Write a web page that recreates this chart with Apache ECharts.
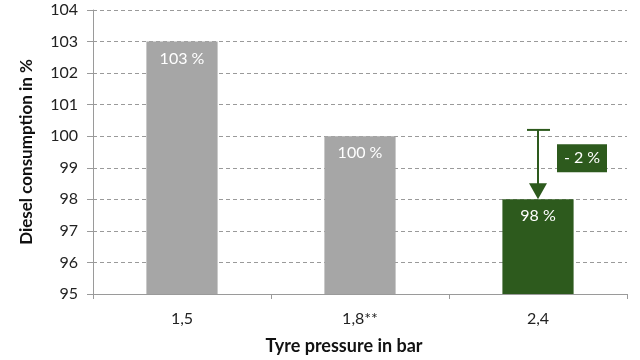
<!DOCTYPE html>
<html><head><meta charset="utf-8">
<script src="https://cdn.jsdelivr.net/npm/echarts@6/dist/echarts.min.js"></script>
<style>html,body{margin:0;padding:0;background:#fff}#c{width:640px;height:360px}</style>
</head><body><div id="c"></div>
<script>
const categories = ['1,5', '1,8**', '2,4'];
const values = [103, 100, 98];
const barLabels = ['103 %', '100 %', '98 %'];
const barColors = ['#A6A6A6', '#A6A6A6', '#2D5A1D'];
const yTicks = [95, 96, 97, 98, 99, 100, 101, 102, 103, 104];
const arrowCategory = 2;
const arrowFrom = 100.2;
const arrowTo = 98;
const deltaLabel = '- 2 %';
const deltaValue = 99.3;

const FONT = 'Lato';
const chart = echarts.init(document.getElementById('c'), null, {renderer: 'canvas'});
chart.setOption({
  animation: false,
  textStyle: {fontFamily: FONT},
  grid: {left: 93, right: 13, top: 10, bottom: 63, containLabel: false},
  xAxis: {
    type: 'category', data: categories,
    name: 'Tyre pressure in bar', nameLocation: 'middle', nameGap: 43,
    nameTextStyle: {fontWeight: 'bold', fontSize: 18, color: '#111', fontFamily: FONT, padding: [0, 32, 0, 0]},
    axisLine: {lineStyle: {color: '#9a9a9a', width: 1}},
    axisTick: {show: true, length: 5, lineStyle: {color: '#9a9a9a'}},
    axisLabel: {fontSize: 16, color: '#222', margin: 17, fontFamily: FONT}
  },
  yAxis: {
    type: 'value', min: yTicks[0], max: yTicks[yTicks.length - 1], interval: 1,
    name: 'Diesel consumption in %', nameLocation: 'middle', nameGap: 58, nameRotate: 90,
    nameTextStyle: {fontWeight: 'bold', fontSize: 17, color: '#111', fontFamily: FONT},
    axisLine: {show: true, lineStyle: {color: '#9a9a9a', width: 1}},
    axisTick: {show: true, length: 6, lineStyle: {color: '#9a9a9a'}},
    axisLabel: {fontSize: 16, color: '#222', margin: 15, fontFamily: FONT},
    splitLine: {lineStyle: {color: '#9a9a9a', type: [4, 3], width: 1}}
  },
  series: [
    {
      type: 'bar', barWidth: '40%',
      data: values.map((v, i) => ({value: v, itemStyle: {color: barColors[i]}, label: {formatter: barLabels[i]}})),
      label: {show: true, position: 'insideTop', distance: 9, color: '#fff', fontSize: 16, fontFamily: FONT}
    },
    {
      type: 'custom', z: 10,
      data: [[arrowCategory, arrowFrom, arrowTo, deltaValue]],
      renderItem: function (params, api) {
        const top = api.coord([api.value(0), api.value(1)]);
        const bot = api.coord([api.value(0), api.value(2)]);
        const lab = api.coord([api.value(0), api.value(3)]);
        const x = top[0];
        const col = '#2D5A1D';
        return {
          type: 'group',
          children: [
            {type: 'line', shape: {x1: x, y1: top[1], x2: x, y2: bot[1] - 14}, style: {stroke: col, lineWidth: 2}},
            {type: 'line', shape: {x1: x - 11, y1: top[1], x2: x + 12, y2: top[1]}, style: {stroke: col, lineWidth: 2}},
            {type: 'polygon', shape: {points: [[x - 9, bot[1] - 16], [x + 9, bot[1] - 16], [x, bot[1]]]}, style: {fill: col}},
            {type: 'rect', shape: {x: x + 19, y: lab[1] - 14, width: 50, height: 28}, style: {fill: col}},
            {type: 'text', style: {x: x + 44, y: lab[1], text: deltaLabel, fill: '#fff', fontSize: 16, fontFamily: FONT, align: 'center', verticalAlign: 'middle'}}
          ]
        };
      }
    }
  ]
});
</script></body></html>
